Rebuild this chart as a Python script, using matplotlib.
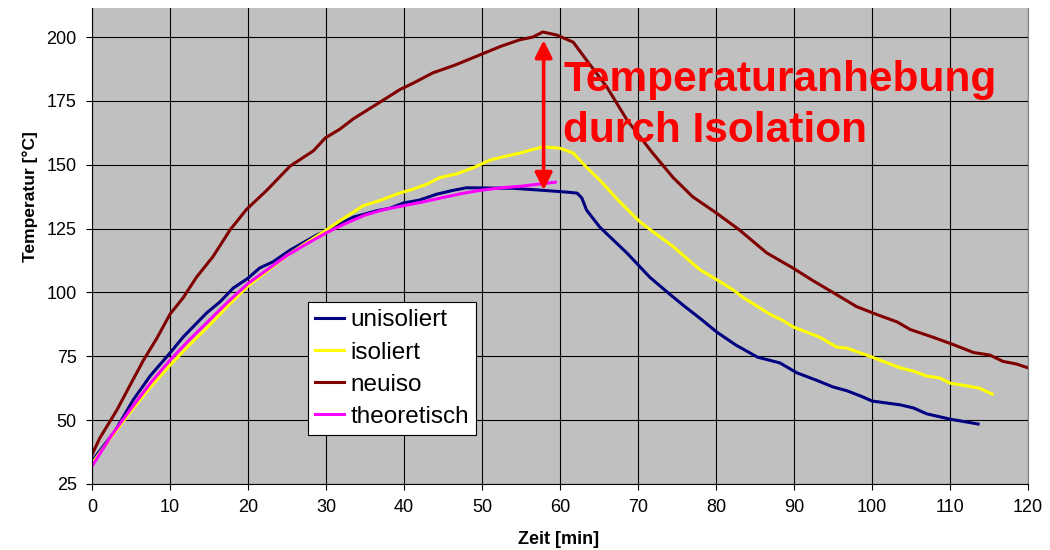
import matplotlib
matplotlib.use("Agg")
import matplotlib.pyplot as plt

plt.rcParams["font.family"] = ["Liberation Sans", "DejaVu Sans"]

t_unisoliert = [0, 1.5, 2.9, 5.3, 7.5, 10, 11.7, 14.7, 16.4, 18.1, 20, 21.5, 23.2, 25.4,
                28.8, 29.9, 33.5, 36.5, 38.2, 39.9, 42, 44.2, 46.3, 48, 51, 54, 57.8,
                60.9, 62.2, 62.8, 63.4, 65.1, 68.6, 71.5, 74, 76, 77.9, 80.1, 82.5,
                85.3, 88.2, 90.4, 93, 95, 96.8, 98.5, 100, 103.6, 105.3, 107, 110, 113.6]
T_unisoliert = [34, 40, 45.5, 58, 67.5, 76.3, 82.6, 92, 96.3, 101.7, 105.6, 109.6, 112,
                116.6, 122.5, 124, 129.5, 132, 133, 135, 136.2, 138.5, 140, 141, 140.9,
                140.8, 140, 139.3, 138.9, 137, 132.3, 125.6, 115.4, 106, 99.5, 94.5, 90,
                84.5, 79.5, 74.7, 72.4, 68.5, 65.5, 63, 61.5, 59.5, 57.5, 56, 54.8, 52.5,
                50.4, 48.5]

t_isoliert = [0, 2.5, 5, 7.5, 10, 12.5, 15, 17.5, 20, 22.5, 25, 27.5, 30, 32.5, 34.8,
              36.9, 39.5, 41.2, 43, 44.6, 46.8, 49, 51, 52.5, 54.9, 56.5, 57.8, 60, 61.7,
              63.4, 65.1, 67.5, 70.3, 72.5, 74.5, 77.9, 80.1, 82.2, 83.5, 86.9, 88.6,
              89.9, 93.3, 95.5, 96.8, 100, 103.6, 105.3, 107, 108.7, 110, 112.2, 113.8,
              115.4]
T_isoliert = [33, 43.5, 53.5, 63, 71.5, 79.5, 87, 95, 102.5, 108.5, 114.5, 119.5, 124.4,
              129.5, 134, 136, 139, 140.5, 142.5, 145, 146.5, 149, 151.8, 153, 154.6, 156,
              157, 156.5, 154.6, 149, 144, 136, 127.5, 122.5, 118, 109, 105, 101, 98,
              91.5, 89, 86.5, 82.5, 78.6, 78.2, 74.7, 70.5, 69.2, 67.3, 66.5, 64.5, 63.4,
              62.5, 60.2]

t_neuiso = [0, 1, 2, 3.2, 4.5, 6.6, 8.3, 10, 11.7, 13.4, 15.5, 17.7, 19.8, 22.4, 25.4,
            28.4, 29.9, 31.8, 33.5, 36.9, 39.5, 41.2, 43.7, 46.5, 49.7, 52.5, 54.9, 56.5,
            57.8, 59.6, 61.7, 63.4, 66, 68.6, 71.9, 74.5, 77, 80.1, 83, 86.5, 89.9, 92.5,
            95, 98, 100.5, 103.2, 104.9, 107.8, 110.5, 113, 115.1, 116.8, 118.5, 120]
T_neuiso = [36.5, 43, 48, 54, 61.5, 73.5, 82, 91.5, 98, 106, 114, 124.5, 132.5, 140,
            149.5, 155.5, 160.5, 164, 168, 174.5, 179.5, 182, 186, 189, 193, 196.5, 199,
            200, 202, 200.8, 198, 191, 180.5, 167.5, 154.5, 145, 137.5, 131, 124.5, 115.5,
            109.5, 104.5, 100, 94.5, 91.5, 88.5, 85.5, 82.5, 79.5, 76.5, 75.5, 73, 72,
            70.5]

t_theo = [0, 2.5, 5, 7.5, 10, 12.5, 15, 17.5, 20, 22.5, 25, 27.5, 30, 32.5, 35, 37.5,
          40, 42.5, 45, 47.5, 50, 52.5, 55, 57.5, 59.4]
T_theo = [32, 44, 54.5, 64.5, 73.5, 81.5, 89, 96.5, 103.5, 109, 114.5, 119, 123.3, 127,
          130.3, 132.5, 134, 135.5, 137.2, 138.8, 140.1, 141, 141.6, 142.5, 143.2]

x_ticks = list(range(0, 121, 10))
y_ticks = list(range(25, 201, 25))

# Pfeil fuer die Temperaturanhebung
pfeil_x = 57.9
pfeil_oben = 198.8
pfeil_unten = 140.1

fig = plt.figure(figsize=(10.5, 5.5), dpi=100)
ax = fig.add_axes([92 / 1050, 1 - 484 / 550, 936 / 1050, 476 / 550])
ax.set_facecolor("#C0C0C0")

lw = 2.2
ax.plot(t_unisoliert, T_unisoliert, color="#000080", lw=lw, label="unisoliert")
ax.plot(t_isoliert, T_isoliert, color="#FFFF00", lw=lw, label="isoliert")
ax.plot(t_neuiso, T_neuiso, color="#800000", lw=lw, label="neuiso")
ax.plot(t_theo, T_theo, color="#FF00FF", lw=lw, label="theoretisch")

ax.set_xlim(0, 120)
ax.set_ylim(25, 211.4)
ax.set_xticks(x_ticks)
ax.set_yticks(y_ticks)
ax.grid(True, color="black", lw=0.8)
ax.set_axisbelow(True)
ax.tick_params(labelsize=13, length=4, width=0.8, color="black")
ax.tick_params(axis="x", pad=7)
ax.tick_params(axis="y", pad=7)

ax.spines["top"].set_visible(False)
ax.spines["right"].set_color("#808080")
ax.spines["left"].set_linewidth(0.8)
ax.spines["bottom"].set_linewidth(0.8)

ax.annotate("", xy=(pfeil_x, pfeil_oben), xytext=(pfeil_x, pfeil_unten),
            arrowprops=dict(arrowstyle="<|-|>", color="red", lw=2.6,
                            mutation_scale=26, shrinkA=0, shrinkB=0))
ax.text(60.4, 191.2, "Temperaturanhebung\ndurch Isolation", color="red",
        fontsize=30.5, fontweight="bold", ha="left", va="top", linespacing=1.38)

leg = ax.legend(loc="upper left", bbox_to_anchor=(308 / 1050, 1 - 302 / 550),
                bbox_transform=fig.transFigure, borderaxespad=0, fontsize=17.5,
                fancybox=False, framealpha=1, edgecolor="black",
                handlelength=1.2, handletextpad=0.25, labelspacing=0.42,
                borderpad=0.3)
leg.get_frame().set_linewidth(0.8)

fig.text(559 / 1050, 1 - 540 / 550, "Zeit [min]", fontsize=13, fontweight="bold",
         ha="center", va="center")
fig.text(30 / 1050, 1 - 197 / 550, "Temperatur [°C]", fontsize=12.5, fontweight="bold",
         ha="center", va="center", rotation=90)

fig.savefig("out.png", dpi=100)
